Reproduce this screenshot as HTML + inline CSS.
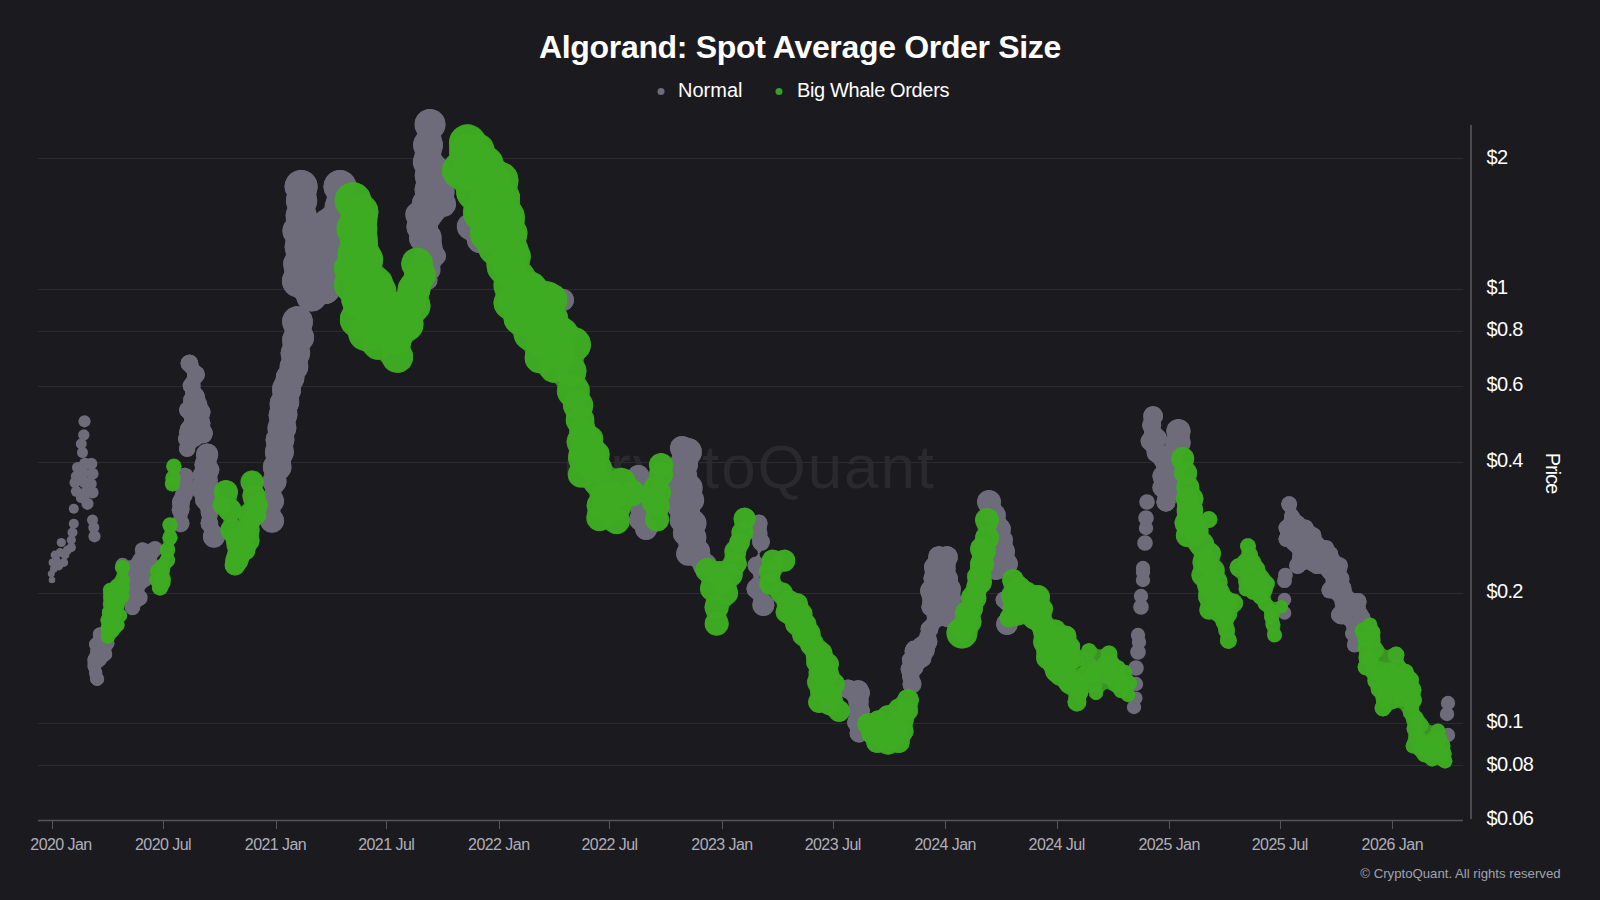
<!DOCTYPE html>
<html><head><meta charset="utf-8"><title>Algorand: Spot Average Order Size</title>
<style>
html,body{margin:0;padding:0;background:#1b1a1f;}
body{width:1600px;height:900px;overflow:hidden;position:relative;font-family:'Liberation Sans', Arial, sans-serif;}
svg{position:absolute;left:0;top:0;}
svg text{font-family:'Liberation Sans', Arial, sans-serif;}
</style></head><body>
<svg width="1600" height="900" viewBox="0 0 1600 900">
<rect width="1600" height="900" fill="#1b1a1f"/>
<text x="800" y="57.5" text-anchor="middle" font-size="32" font-weight="bold" fill="#ffffff" letter-spacing="-0.33">Algorand: Spot Average Order Size</text>
<circle cx="661" cy="91.6" r="3.5" fill="#6e6c7a"/>
<text x="678" y="97" font-size="20" fill="#ffffff">Normal</text>
<circle cx="779" cy="91.6" r="3.5" fill="#3b9f25"/>
<text x="797" y="97" font-size="20" fill="#ffffff" letter-spacing="-0.36">Big Whale Orders</text>
<text x="563.6" y="488" font-size="62" fill="#29292e" letter-spacing="1.9">CryptoQuant</text>
<line x1="38" y1="158.5" x2="1463" y2="158.5" stroke="#2b2b31" stroke-width="1"/>
<line x1="38" y1="289.5" x2="1463" y2="289.5" stroke="#2b2b31" stroke-width="1"/>
<line x1="38" y1="331.5" x2="1463" y2="331.5" stroke="#2b2b31" stroke-width="1"/>
<line x1="38" y1="386.5" x2="1463" y2="386.5" stroke="#2b2b31" stroke-width="1"/>
<line x1="38" y1="462.5" x2="1463" y2="462.5" stroke="#2b2b31" stroke-width="1"/>
<line x1="38" y1="593.5" x2="1463" y2="593.5" stroke="#2b2b31" stroke-width="1"/>
<line x1="38" y1="723.5" x2="1463" y2="723.5" stroke="#2b2b31" stroke-width="1"/>
<line x1="38" y1="765.5" x2="1463" y2="765.5" stroke="#2b2b31" stroke-width="1"/>
<g fill="#6e6c7a"><path d="M100,627.5 96.5,628.5 94,631.0 93,634.5 93.5,637.0 89.5,642.0 89,644.5 90.5,648.5 90.5,651.5 87.5,659.5 87.5,666.5 89,670.5 90.5,681.5 93.5,685.0 97,686.0 100.5,685.0 103.5,681.5 104,679.0 101.5,672.5 101,668.0 111.5,657.0 111.5,649.5 114,646.0 114.5,643.5 113,639.5 107,635.0 106,631.0 103.5,628.5Z"/><path d="M157.5,542.0 152.5,542.0 148,544.0 142.5,542.5 140,543.0 136.5,545.5 135,550.0 135.5,553.5 131,560.0 129,560.5 122.5,558.0 119,559.0 116,562.5 116,567.5 120.5,572.5 121.5,575.5 121.5,582.5 123.5,587.5 123,597.5 125,602.5 125.5,610.0 126.5,612.0 130,614.5 132.5,615.0 137,613.5 139.5,610.0 140,607.0 144.5,604.0 147,600.5 147,595.5 144.5,591.5 144.5,589.5 151.5,582.5 152,580.0 150.5,576.0 150.5,572.5 156,567.0 157.5,562.5 157,558.0 161,553.5 162.5,549.0 161,544.5Z"/><path d="M189.5,354.5 184,356.5 181.5,359.5 180.5,363.5 181.5,367.5 187,373.5 187,377.0 183,383.0 182.5,385.5 183.5,389.5 185,391.5 185,394.5 183.5,397.5 183,402.5 180.5,405.5 179,410.0 180.5,414.5 184,418.5 184,421.0 181,425.0 179,432.0 179.5,435.0 178,439.0 180,444.0 179,449.0 179.5,451.5 182.5,455.5 187,457.0 191.5,455.5 193.5,453.5 195,448.5 198,445.5 201.5,443.5 206,443.0 209,441.5 211,439.5 213,433.5 212.5,430.5 210,426.0 210.5,423.0 209,418.5 210.5,412.0 210,409.0 206.5,403.5 204,392.5 200.5,388.0 200.5,383.0 204,378.5 205,374.5 203,369.0 199,365.5 196.5,358.0 193.5,355.5Z"/><path d="M207,443.5 201.5,445.0 197,450.0 196,454.5 196.5,459.0 194.5,464.5 195,469.0 193,474.5 193.5,480.0 190.5,485.0 190,488.0 192,494.0 195,497.5 195.5,503.0 200.5,510.0 202,516.5 200.5,523.5 201.5,527.5 204,531.0 203,536.5 204,541.0 208.5,546.0 214,547.5 218.5,546.5 221.5,544.5 224,541.0 225,536.5 223.5,531.0 218.5,525.5 217,519.0 218.5,512.0 217.5,509.0 218.5,502.0 218,496.5 219.5,492.0 217.5,486.5 217.5,475.5 219.5,470.0 219,467.0 216.5,462.5 218,454.5 217.5,451.5 214.5,446.5 211.5,444.5Z"/><path d="M185,467.5 181,468.5 177,472.5 176,476.5 176.5,481.0 175,485.5 176,491.5 172,502.0 172.5,507.0 171.5,510.0 173.5,515.5 173.5,518.0 171.5,523.5 172,526.0 175,530.5 180.5,532.5 186,530.5 189,526.0 189.5,523.5 187.5,518.0 187.5,515.5 189.5,510.0 189.5,502.5 192,498.5 193,494.5 192,488.5 193,485.5 192.5,481.0 194,476.5 193.5,474.0 190.5,469.5Z"/><path d="M297.5,306.0 294,306.5 288.5,309.0 285,312.5 282.5,318.0 282,321.5 284.5,329.5 284.5,332.5 282.5,336.5 282.5,346.5 280.5,353.0 281.5,360.0 280,363.0 279.5,368.0 276.5,373.0 276,377.5 272.5,385.0 272.5,395.0 270.5,398.5 269.5,403.5 270,409.5 268.5,415.0 269.5,421.5 267.5,428.0 268,432.5 266.5,435.0 265.5,440.0 266.5,444.0 265,452.0 266,459.0 264,462.0 263,467.0 264.5,475.5 262.5,481.5 265,488.5 265,491.0 262,494.5 260,501.0 261,505.5 263.5,509.5 263.5,512.0 261,516.0 260,520.5 262,527.0 265.5,530.5 272,532.5 278.5,530.5 282,527.0 283.5,523.5 283.5,517.5 280.5,512.0 280.5,509.5 283,505.5 284,501.0 281.5,494.0 281.5,491.5 285.5,486.0 286.5,481.5 286,478.0 291,470.5 291,460.5 293,457.0 294,452.0 293,445.5 294.5,440.0 294,435.5 295.5,433.0 296.5,428.0 295.5,421.5 297.5,415.0 297,409.5 299,405.5 299,397.0 300.5,394.0 301,387.5 304,381.5 304.5,376.5 308,370.0 308,360.0 310,353.5 309.5,348.0 313,342.5 314,337.5 313.5,334.0 311.5,330.0 313,321.5 311,314.0 305,308.0Z"/><path d="M301,170.0 295.5,171.0 291,173.5 288,176.5 285,182.5 284.5,186.5 285,190.5 287,194.5 286,200.5 287.5,208.0 285.5,215.0 286,221.5 284,224.5 282.5,231.0 284,237.5 285.5,239.5 284.5,247.0 286,255.0 283.5,260.5 283,264.0 284.5,273.0 282.5,277.0 282,281.0 283,286.5 285.5,291.0 288.5,294.0 294,296.5 296.5,299.0 299,305.0 304,309.5 311.5,311.5 318,310.0 325,304.0 328.5,303.5 334,301.0 338.5,296.0 340.5,288.5 339,282.0 336.5,278.0 337,273.0 335.5,266.5 334,264.0 327.5,258.0 323.5,249.5 323.5,241.0 327,235.5 328,230.0 325.5,221.5 322.5,218.0 316.5,213.5 315,209.5 317,200.5 316,196.5 317.5,186.5 317,182.5 315,178.0 311,173.5 306.5,171.0Z"/><path d="M344,170.5 340,170.0 334.5,171.0 330,173.5 327,176.5 324.5,181.0 323.5,186.5 324.5,192.0 327,196.5 324.5,207.5 316.5,214.0 308.5,214.5 303.5,216.5 298.5,221.5 296.5,226.5 296,230.0 297,236.0 295.5,238.5 294,245.0 294.5,248.5 297,254.0 297,263.5 298.5,267.5 303,273.0 305,281.5 309.5,287.0 311.5,296.0 316,301.0 321.5,303.5 325,304.0 331.5,302.5 337.5,297.5 339,295.0 340.5,288.5 338,278.5 342,273.5 343,270.5 350.5,264.0 353,258.5 353,251.5 351.5,247.5 348.5,243.5 348.5,241.5 351.5,237.5 353,233.5 353,226.5 350.5,221.0 350.5,218.5 353.5,214.5 355.5,207.0 353,196.5 355.5,192.0 356.5,186.5 355.5,181.0 353,176.5 350,173.5Z"/><path d="M430,109.0 426.5,109.5 421,112.0 417.5,115.5 415,121.0 415,128.0 417,132.5 417,134.5 414.5,138.5 413,145.0 415,152.0 413,162.0 415.5,170.0 415,175.5 416,183.5 414.5,189.0 415,194.5 412.5,199.0 412,203.0 406.5,209.5 405.5,214.5 407.5,221.0 406.5,227.0 407.5,232.0 409.5,235.5 409.5,241.5 413.5,248.0 414.5,251.5 412.5,260.0 413,263.5 415,267.5 419,272.0 419,275.5 417.5,280.0 418,283.0 421.5,288.0 427.5,290.0 430.5,289.5 435.5,286.0 437,283.0 437,277.5 440,272.5 440,266.5 445.5,259.0 445.5,253.0 442,247.0 441,234.5 438,228.5 438,225.0 445,216.5 450.5,214.5 455,209.0 456,204.0 454,197.5 454,188.0 456,184.5 457,180.0 455,173.5 450.5,169.0 448.5,163.5 441,155.0 443,145.0 441,135.5 444,131.0 445.5,124.5 444,118.0 442.5,115.5 437.5,111.0Z"/><path d="M563,289.0 558.5,290.0 555.5,292.0 553,295.5 552,300.0 553,304.5 555,307.5 558.5,310.0 563,311.0 567.5,310.0 570.5,308.0 573,304.5 574,300.0 573,295.5 571,292.5 567.5,290.0ZM464,215.0 459.5,219.0 457.5,223.0 457,226.5 458.5,232.5 467,240.5 468.5,246.0 472.5,250.5 475,252.0 480,253.0 486,251.5 490.5,247.5 492.5,243.5 493,240.0 491.5,234.0 483,226.0 481.5,220.5 477.5,216.0 475,214.5 470,213.5Z"/><path d="M638.5,465.0 634,466.0 631,468.0 628,473.0 627.5,476.0 629,481.0 628,488.0 628.5,491.0 630.5,494.5 630,500.0 631.5,504.5 630.5,510.0 631,513.5 629,519.5 630.5,525.0 635,529.5 636,533.5 638,536.5 641.5,539.0 646,540.0 650.5,539.0 653.5,537.0 656,533.5 657,529.0 655.5,523.5 650.5,518.0 652.5,510.0 651.5,505.5 649.5,502.5 649.5,497.0 648,494.5 649,488.0 648,484.5 648,481.0 649.5,476.0 649,473.0 646,468.0 643,466.0Z"/><path d="M679,436.5 675.5,438.0 672,441.5 670,448.0 672,454.0 672,457.5 670,464.0 671.5,476.0 667.5,482.5 667,485.5 668.5,496.0 666,501.0 666,507.0 670.5,515.0 669.5,520.5 670.5,525.0 673.5,529.5 673,533.5 674,538.0 678.5,544.0 678.5,546.5 676,553.5 678,560.0 683.5,564.5 691,565.5 693.5,568.0 695,572.0 698.5,575.5 705,577.5 711.5,575.5 715,572.0 717,565.5 716,561.0 710.5,554.5 709,547.0 705.5,542.0 706,537.5 704.5,530.0 706,527.0 706,520.0 704,516.0 700,511.5 700,509.5 703,505.0 704,500.0 702,493.5 702,484.5 700.5,481.0 696.5,476.0 696,470.5 697.5,467.5 698,462.0 701.5,455.5 701.5,448.5 699.5,444.0 695.5,440.0 685,436.5Z"/><path d="M758.5,514.5 753,516.5 750.5,519.5 749.5,523.5 750.5,526.5 749.5,533.0 750.5,537.0 752,539.0 752.5,544.5 754,547.5 757.5,551.0 758,554.0 755.5,557.0 752.5,557.5 748.5,561.5 747.5,565.5 749.5,571.0 753,574.5 753.5,577.5 748.5,582.5 746.5,588.5 748.5,594.5 753.5,599.5 752.5,605.0 754,610.5 758,614.5 763.5,616.0 768,615.0 771,613.0 773.5,609.5 774.5,605.0 773,599.5 766,592.5 766.5,588.5 764.5,582.5 759.5,577.5 759.5,575.5 764.5,569.5 765.5,565.5 764.5,561.5 760,556.5 759.5,553.5 762,550.5 765,550.0 768,547.5 770,542.0 769,538.0 767.5,536.0 766.5,530.0 767.5,523.5 766.5,519.5 762.5,515.5Z"/><path d="M845,680.0 840,684.0 838.5,689.0 840,694.0 843,697.0 845.5,698.0 848.5,701.5 849,707.5 848,711.0 849,716.5 847,722.0 847.5,725.0 850,729.5 850,736.0 854,741.0 859,742.5 862,742.0 867,738.0 868.5,733.0 867,725.5 868,722.0 867.5,718.0 870,711.0 868.5,706.0 868.5,698.0 870,693.0 869.5,690.0 866,683.5 862.5,681.0 858,680.0 854.5,681.0 848,679.5Z"/><path d="M950,546.5 947,546.0 942.5,547.0 939,546.0 933.5,547.5 929.5,551.5 928,558.5 924.5,564.0 924,567.0 925,573.5 923.5,578.0 924,582.0 921,586.5 920,591.0 922.5,599.5 921.5,607.0 922,610.0 926.5,615.5 927,619.0 921.5,625.0 920.5,629.0 921,632.5 919.5,635.5 913,641.0 910,641.5 906.5,645.0 904.5,651.0 905,653.5 902.5,657.5 902.5,663.5 900.5,669.0 903,679.5 903,687.0 904,689.0 909,693.0 915,693.0 917,692.0 921,687.0 921,681.0 919,677.5 919,675.5 922,672.0 923.5,668.5 930,663.0 931,658.5 934,654.5 935,648.5 937.5,642.0 936,635.0 937.5,633.0 938.5,628.5 940.5,626.5 942.5,626.0 949,627.5 954,626.0 957,623.0 958.5,617.0 961.5,612.0 962,609.0 960.5,604.0 961,599.0 960,595.5 961,589.0 960,584.5 958,581.5 957.5,576.0 955.5,572.0 955.5,564.0 957.5,560.0 957.5,554.0 955,549.5Z"/><path d="M989,490.0 982.5,492.0 979,495.5 977,502.0 979,508.5 983.5,513.0 985,519.5 989.5,525.5 989.5,532.0 993,538.0 994,543.5 993.5,550.5 990,556.5 989.5,560.0 985.5,566.0 985.5,572.0 988.5,577.0 991.5,579.0 996,580.0 1001.5,578.5 1005.5,575.0 1012.5,573.5 1016.5,569.5 1018,564.0 1017,559.5 1014.5,556.0 1015,551.0 1012.5,544.0 1012.5,537.0 1010.5,533.5 1010.5,526.0 1005.5,518.5 1005.5,512.0 1000.5,504.5 1001,502.0 1000,497.5 995.5,492.0Z"/><path d="M1004,591.5 1000,592.5 998,594.0 996,597.5 995.5,600.0 996.5,604.0 1003,610.5 1002.5,613.5 997.5,618.5 996,624.0 997,628.5 999,631.5 1002.5,634.0 1007,635.0 1011.5,634.0 1014.5,632.0 1017,628.5 1018,624.0 1017,619.5 1015,616.5 1010.5,614.0 1008,611.0 1008,608.5 1012,602.5 1012.5,600.0 1011.5,596.0 1008,592.5Z"/><path d="M1153,406.0 1147,408.0 1143.5,413.0 1143.5,421.0 1142,425.5 1144,431.0 1144,433.5 1141,438.0 1140.5,441.0 1142,446.0 1146.5,451.0 1148,458.0 1154.5,463.5 1156,466.5 1156,468.5 1153,473.0 1152.5,476.0 1154,483.0 1152.5,487.5 1154,492.5 1157.5,496.5 1156.5,502.0 1157,505.0 1161,510.0 1166,511.5 1171,510.0 1174,507.0 1175.5,502.0 1174,497.0 1170.5,493.0 1171.5,487.5 1170,480.5 1171.5,476.0 1169,467.5 1172,463.0 1172.5,460.0 1171,455.0 1164,448.5 1164,445.5 1166.5,441.5 1167,438.5 1165.5,433.5 1160.5,428.0 1160.5,422.5 1162.5,419.0 1163,416.0 1162.5,413.0 1159,408.0Z"/><path d="M1178.5,419.0 1172,421.0 1168.5,424.5 1166.5,431.0 1167.5,436.5 1166,439.0 1165.5,444.5 1162,450.0 1161.5,453.0 1163,457.5 1162,463.5 1164,469.0 1163,474.5 1164.5,481.5 1162,486.0 1162,492.5 1158,497.0 1156.5,502.0 1158,507.0 1161,510.0 1166,511.5 1171,510.0 1174,507.0 1176,499.5 1180.5,495.0 1182,492.0 1182.5,489.0 1181,482.0 1183.5,477.5 1184,474.5 1183.5,471.5 1181.5,468.0 1182,463.5 1181,457.5 1182.5,454.5 1189,448.0 1190.5,442.5 1189.5,439.0 1190.5,431.0 1188.5,424.5 1185,421.0Z"/><path d="M1286.5,496.5 1282.5,499.5 1281,504.0 1282.5,508.5 1285,511.5 1284,519.0 1279,525.5 1278.5,528.0 1280,532.0 1280,535.0 1278.5,539.0 1280,543.5 1282,545.5 1286.5,547.0 1292.5,553.0 1292,559.0 1290,561.5 1289,565.5 1290,569.5 1293.5,573.0 1297.5,574.0 1301.5,573.0 1305,570.0 1307,569.5 1314,573.5 1321,574.0 1325.5,579.5 1325.5,582.0 1322,587.5 1321.5,590.0 1322.5,594.0 1326,597.5 1331.5,598.5 1334,601.0 1335,604.0 1335,607.0 1331.5,612.5 1331,615.0 1332,619.0 1337,623.5 1344,624.5 1346,626.5 1346.5,629.5 1345,633.5 1348,640.0 1347,645.0 1348.5,649.5 1352,652.0 1357,652.0 1360.5,649.5 1362,645.0 1359,638.5 1360,633.5 1359.5,629.5 1362,626.5 1366,625.5 1369.5,622.0 1370.5,618.0 1369.5,614.0 1366.5,610.0 1365.5,607.0 1366.5,601.5 1365.5,597.5 1362,594.0 1354,593.0 1352,591.0 1350.5,584.5 1349,582.5 1349,576.5 1346.5,572.5 1348,565.5 1347,561.5 1345.5,559.5 1341,557.5 1338.5,555.0 1337.5,550.5 1334,546.5 1332,542.5 1330,541.0 1324.5,540.0 1322,537.5 1320.5,531.5 1319,529.5 1315,527.5 1311,522.0 1309,520.5 1305,519.5 1299.5,514.5 1296,509.0 1297,504.0 1295.5,499.5 1291.5,496.5Z"/></g>
<g fill="#6e6c7a">
<circle cx="52" cy="580" r="3.3"/><circle cx="51.3" cy="573.8" r="3.5"/><circle cx="53.8" cy="568.8" r="3.9"/><circle cx="52.5" cy="562.5" r="3.9"/><circle cx="56.3" cy="560" r="4.2"/><circle cx="55" cy="555" r="4.4"/><circle cx="60" cy="552.5" r="4.4"/><circle cx="65" cy="555" r="4.4"/><circle cx="63.8" cy="562.5" r="4.4"/><circle cx="58.8" cy="566" r="4.4"/><circle cx="61.3" cy="542.5" r="4.6"/><circle cx="67.5" cy="550" r="4.6"/><circle cx="71.3" cy="547.5" r="4.6"/><circle cx="71.3" cy="540" r="4.6"/><circle cx="72.5" cy="532.5" r="5"/><circle cx="73.8" cy="523.8" r="5"/><circle cx="73.8" cy="508.8" r="5"/><circle cx="77.5" cy="467.5" r="5.5"/><circle cx="85" cy="463.8" r="6.1"/><circle cx="91.3" cy="463.8" r="6.1"/><circle cx="92.5" cy="473.8" r="6.1"/><circle cx="76.3" cy="476.3" r="5.5"/><circle cx="82.5" cy="472.5" r="6.1"/><circle cx="75" cy="482.5" r="5.5"/><circle cx="85" cy="482.5" r="6.1"/><circle cx="91.3" cy="483.8" r="5.5"/><circle cx="76.3" cy="491.3" r="5.5"/><circle cx="86.3" cy="492.5" r="6.1"/><circle cx="92.5" cy="492.5" r="6.1"/><circle cx="81.3" cy="497.5" r="5.5"/><circle cx="87.5" cy="503.8" r="6.1"/><circle cx="84.5" cy="421.3" r="6.1"/><circle cx="83.8" cy="435" r="5.7"/><circle cx="81.3" cy="443.8" r="5.5"/><circle cx="82.5" cy="452.5" r="5.5"/><circle cx="92.5" cy="520" r="5.5"/><circle cx="93.8" cy="527.5" r="5.5"/><circle cx="94.5" cy="536.3" r="6.1"/><circle cx="97.2" cy="678.9" r="7"/><circle cx="94.4" cy="666.7" r="6.8"/><circle cx="100" cy="660" r="6.6"/><circle cx="105.6" cy="654.4" r="6.6"/><circle cx="96.7" cy="652.2" r="6.6"/><circle cx="95.6" cy="644.4" r="6.6"/><circle cx="100" cy="634.4" r="7.2"/><circle cx="107.8" cy="643.3" r="6.6"/><circle cx="95.7" cy="672.8" r="6.7"/><circle cx="94.4" cy="659.3" r="6.9"/><circle cx="99.4" cy="650.6" r="6.5"/><circle cx="103.1" cy="648.8" r="6.1"/><circle cx="101.7" cy="644" r="6.6"/><circle cx="122.5" cy="565" r="7.2"/><circle cx="142.5" cy="550" r="7.7"/><circle cx="155" cy="548.8" r="7.7"/><circle cx="140" cy="560" r="7.7"/><circle cx="137.5" cy="572.5" r="7.7"/><circle cx="135" cy="585" r="7.7"/><circle cx="137.5" cy="597.5" r="7.7"/><circle cx="132.5" cy="607.5" r="7.7"/><circle cx="150" cy="562.5" r="7.7"/><circle cx="145" cy="580" r="7.2"/><circle cx="132.2" cy="604.4" r="7.2"/><circle cx="140" cy="597.8" r="7.7"/><circle cx="128" cy="575" r="7.2"/><circle cx="130" cy="590" r="7.2"/><circle cx="129.2" cy="570.3" r="6.9"/><circle cx="145.5" cy="556.7" r="7.2"/><circle cx="150.7" cy="555" r="7.1"/><circle cx="144.7" cy="568.6" r="7.7"/><circle cx="132.6" cy="598.6" r="7.7"/><circle cx="130.2" cy="597.3" r="6.9"/><circle cx="128.3" cy="582.6" r="6.9"/><circle cx="189.4" cy="363.3" r="8.8"/><circle cx="196.1" cy="374.4" r="8.8"/><circle cx="191.7" cy="385.6" r="8.8"/><circle cx="196.1" cy="396.7" r="8.8"/><circle cx="187.2" cy="410" r="8.2"/><circle cx="200.6" cy="412.2" r="9.9"/><circle cx="200.6" cy="421" r="8.8"/><circle cx="187.2" cy="432.2" r="8.2"/><circle cx="186.1" cy="438.9" r="8.2"/><circle cx="187.2" cy="448.9" r="8.2"/><circle cx="202.8" cy="433.3" r="9.9"/><circle cx="193" cy="420" r="8.8"/><circle cx="192" cy="400" r="8.8"/><circle cx="193" cy="404.3" r="8.5"/><circle cx="197.7" cy="404.6" r="9.7"/><circle cx="194.5" cy="414.7" r="8.1"/><circle cx="200.5" cy="422.9" r="9.9"/><circle cx="194.4" cy="427.2" r="8.5"/><circle cx="187.6" cy="440.5" r="8.3"/><circle cx="195.1" cy="431" r="8.6"/><circle cx="195" cy="437.8" r="8.7"/><circle cx="188.6" cy="429.1" r="8.6"/><circle cx="198.4" cy="426.3" r="8.8"/><circle cx="192.7" cy="410" r="8.8"/><circle cx="207.2" cy="454.4" r="11"/><circle cx="209.4" cy="470" r="9.9"/><circle cx="202.8" cy="474.4" r="9.9"/><circle cx="200.6" cy="487.8" r="10.5"/><circle cx="209.4" cy="492.2" r="9.9"/><circle cx="209.4" cy="512.2" r="8.8"/><circle cx="209.4" cy="523.3" r="8.8"/><circle cx="213.9" cy="536.7" r="11"/><circle cx="205" cy="500" r="9.9"/><circle cx="204.6" cy="464.3" r="10.2"/><circle cx="204.6" cy="478.7" r="9.6"/><circle cx="207.8" cy="481.1" r="10.1"/><circle cx="205.4" cy="483.6" r="9.3"/><circle cx="209.3" cy="502.2" r="9"/><circle cx="185" cy="476.7" r="8.8"/><circle cx="183.9" cy="494.4" r="8.8"/><circle cx="180.6" cy="510" r="8.8"/><circle cx="180.6" cy="523.3" r="8.8"/><circle cx="183.9" cy="485.5" r="8.9"/><circle cx="181" cy="501.9" r="9.1"/><circle cx="296.5" cy="339.8" r="14.3"/><circle cx="294" cy="366.7" r="14.3"/><circle cx="286.7" cy="388.7" r="14.3"/><circle cx="284.2" cy="403.3" r="14.3"/><circle cx="281.8" cy="427.8" r="14.3"/><circle cx="279.3" cy="452.2" r="14.3"/><circle cx="274.4" cy="481.6" r="12.1"/><circle cx="272" cy="501" r="12.1"/><circle cx="272" cy="520.7" r="12.1"/><circle cx="297.5" cy="321.7" r="15.4"/><circle cx="295" cy="353" r="14.3"/><circle cx="290" cy="378" r="14.3"/><circle cx="283" cy="415" r="14.3"/><circle cx="280" cy="440" r="14.3"/><circle cx="276" cy="467" r="13.2"/><circle cx="296.2" cy="353.3" r="14"/><circle cx="285.4" cy="401.9" r="13.9"/><circle cx="286.5" cy="390.5" r="14.3"/><circle cx="278.4" cy="467.2" r="13.1"/><circle cx="299.9" cy="337.6" r="14.2"/><circle cx="279.1" cy="453.7" r="12.9"/><circle cx="301.2" cy="186.5" r="16.5"/><circle cx="301.2" cy="214.8" r="15.4"/><circle cx="300.2" cy="247" r="15.4"/><circle cx="298.4" cy="281" r="16.5"/><circle cx="311.6" cy="296" r="15.4"/><circle cx="301" cy="230" r="15.4"/><circle cx="312" cy="260" r="15.4"/><circle cx="312" cy="230" r="16"/><circle cx="324.8" cy="288.5" r="15.4"/><circle cx="312" cy="278" r="15.4"/><circle cx="301.6" cy="200.7" r="15.7"/><circle cx="297.4" cy="230.8" r="15"/><circle cx="299.2" cy="264" r="15.8"/><circle cx="308.4" cy="261.6" r="15.1"/><circle cx="305.6" cy="245.3" r="15.6"/><circle cx="308.8" cy="245" r="15"/><circle cx="321.3" cy="273" r="15.7"/><circle cx="340" cy="186.5" r="16.5"/><circle cx="328" cy="224" r="15.4"/><circle cx="326.7" cy="245" r="15.4"/><circle cx="328.6" cy="266" r="15.4"/><circle cx="340" cy="207" r="15.4"/><circle cx="338" cy="230" r="15.4"/><circle cx="338" cy="255" r="15.4"/><circle cx="324.8" cy="288.5" r="15.4"/><circle cx="312" cy="260" r="15.4"/><circle cx="312" cy="230" r="16"/><circle cx="333.3" cy="239.4" r="15.2"/><circle cx="327.3" cy="240.1" r="15.3"/><circle cx="318.5" cy="274.2" r="15.3"/><circle cx="309.5" cy="245" r="15.4"/><circle cx="430" cy="124.4" r="15.5"/><circle cx="428" cy="145" r="15"/><circle cx="427.8" cy="162" r="15"/><circle cx="431" cy="193" r="15"/><circle cx="443" cy="204" r="13"/><circle cx="426.7" cy="215.6" r="15"/><circle cx="426.7" cy="237.8" r="15"/><circle cx="425.6" cy="260" r="13"/><circle cx="436" cy="256" r="10"/><circle cx="427.7" cy="189" r="13"/><circle cx="418.3" cy="214.7" r="13"/><circle cx="423" cy="238" r="14"/><circle cx="430" cy="263.7" r="10"/><circle cx="427.7" cy="280" r="10"/><circle cx="445" cy="180" r="12"/><circle cx="430.4" cy="177.4" r="14.7"/><circle cx="428.3" cy="175.5" r="13.6"/><circle cx="436.8" cy="170.6" r="13.5"/><circle cx="426.1" cy="204.7" r="13.9"/><circle cx="431.9" cy="212.3" r="12.4"/><circle cx="443" cy="191.9" r="11.7"/><circle cx="428.9" cy="202.4" r="13.4"/><circle cx="429.7" cy="247.7" r="12.9"/><circle cx="420.9" cy="226.8" r="14.4"/><circle cx="426.4" cy="251" r="12.5"/><circle cx="429.4" cy="269.7" r="11.2"/><circle cx="430.1" cy="246.6" r="11.5"/><circle cx="424.7" cy="202.5" r="12.4"/><circle cx="422.2" cy="226" r="13.7"/><circle cx="427.4" cy="250.6" r="11.6"/><circle cx="470" cy="226.7" r="13.2"/><circle cx="480" cy="240" r="13.2"/><circle cx="563" cy="300" r="11"/><circle cx="638.4" cy="476" r="11"/><circle cx="640" cy="519.5" r="11"/><circle cx="646.2" cy="528.9" r="11"/><circle cx="640" cy="500" r="9.9"/><circle cx="638.6" cy="488" r="10.5"/><circle cx="641.5" cy="509.8" r="10.8"/><circle cx="682" cy="448" r="12.1"/><circle cx="682" cy="466.7" r="12.1"/><circle cx="678.9" cy="485.3" r="12.1"/><circle cx="677.3" cy="504" r="12.1"/><circle cx="685" cy="513.3" r="12.1"/><circle cx="685" cy="533.5" r="12.1"/><circle cx="688.2" cy="553.7" r="12.1"/><circle cx="687.5" cy="452.2" r="14.3"/><circle cx="684" cy="476.7" r="13.2"/><circle cx="679.3" cy="507" r="12.1"/><circle cx="691" cy="500" r="13.2"/><circle cx="693.3" cy="523.3" r="13.2"/><circle cx="688.7" cy="537.3" r="12.1"/><circle cx="698" cy="551.3" r="12.1"/><circle cx="705" cy="565.3" r="12.1"/><circle cx="683.9" cy="462.3" r="12.4"/><circle cx="682.4" cy="499.2" r="11.8"/><circle cx="680.1" cy="490.2" r="12.6"/><circle cx="686.5" cy="512.7" r="12.6"/><circle cx="689.8" cy="524.8" r="11.6"/><circle cx="681.2" cy="520.5" r="11.3"/><circle cx="690.3" cy="543.3" r="11.6"/><circle cx="683.8" cy="464.2" r="14.2"/><circle cx="689.1" cy="487.9" r="13.6"/><circle cx="693.7" cy="537.6" r="12.7"/><circle cx="758.7" cy="523.3" r="8.8"/><circle cx="761" cy="542" r="8.8"/><circle cx="756.3" cy="565.3" r="8.8"/><circle cx="756.3" cy="588.7" r="9.9"/><circle cx="763.3" cy="605" r="11"/><circle cx="758.6" cy="532.8" r="9"/><circle cx="848" cy="689" r="9.6"/><circle cx="859" cy="693" r="10.8"/><circle cx="859" cy="711" r="10.8"/><circle cx="859" cy="733" r="9.6"/><circle cx="858" cy="691" r="10.8"/><circle cx="857.5" cy="722" r="10.4"/><circle cx="858.4" cy="701" r="10.3"/><circle cx="912" cy="684" r="9.6"/><circle cx="914" cy="667" r="9.6"/><circle cx="914" cy="649" r="8.4"/><circle cx="928" cy="644" r="8.4"/><circle cx="930" cy="629" r="8.4"/><circle cx="930" cy="607" r="8.4"/><circle cx="934" cy="593" r="9.6"/><circle cx="939" cy="571" r="9.6"/><circle cx="946" cy="564" r="9.6"/><circle cx="950" cy="589" r="10.8"/><circle cx="950" cy="611" r="9.6"/><circle cx="920" cy="655" r="8.4"/><circle cx="943" cy="580" r="9.6"/><circle cx="939" cy="557" r="10.8"/><circle cx="947" cy="557" r="10.8"/><circle cx="943" cy="569" r="10.8"/><circle cx="933" cy="578" r="9.6"/><circle cx="931" cy="591" r="10.8"/><circle cx="931" cy="607" r="9.6"/><circle cx="947" cy="596" r="10.8"/><circle cx="951" cy="609" r="10.8"/><circle cx="949" cy="618" r="9.6"/><circle cx="929" cy="629" r="8.4"/><circle cx="929" cy="642" r="8.4"/><circle cx="913" cy="651" r="8.4"/><circle cx="922" cy="658" r="9.6"/><circle cx="909" cy="669" r="8.4"/><circle cx="940" cy="585" r="10.8"/><circle cx="910.7" cy="676.5" r="8.7"/><circle cx="915.6" cy="658" r="8.6"/><circle cx="913.5" cy="659" r="8.7"/><circle cx="921.3" cy="645.2" r="8.7"/><circle cx="927.4" cy="636.3" r="8.2"/><circle cx="921" cy="648.5" r="8.1"/><circle cx="922.9" cy="650.1" r="8.6"/><circle cx="939.9" cy="609.5" r="8.7"/><circle cx="931.6" cy="599.1" r="9.3"/><circle cx="937.6" cy="600.2" r="9.3"/><circle cx="940.5" cy="607.6" r="9.7"/><circle cx="936.8" cy="582.1" r="9.1"/><circle cx="941.9" cy="601.6" r="9.7"/><circle cx="944.4" cy="580" r="9.7"/><circle cx="935.4" cy="581.2" r="10.3"/><circle cx="939.4" cy="570.9" r="9.7"/><circle cx="941.7" cy="574.1" r="10.1"/><circle cx="949.3" cy="600" r="9.9"/><circle cx="947.1" cy="578.8" r="10.9"/><circle cx="940.4" cy="585.2" r="10.5"/><circle cx="951.2" cy="599" r="10.1"/><circle cx="940.2" cy="610.6" r="9.2"/><circle cx="923" cy="647.5" r="8.1"/><circle cx="914.8" cy="662.2" r="8.4"/><circle cx="940.8" cy="568.5" r="10.5"/><circle cx="945.8" cy="568.6" r="9.8"/><circle cx="934.2" cy="567" r="10.2"/><circle cx="934.8" cy="578.8" r="10.9"/><circle cx="938.1" cy="588.5" r="9.6"/><circle cx="938.4" cy="600.6" r="10.6"/><circle cx="941.2" cy="605.6" r="10.5"/><circle cx="939" cy="614.2" r="9"/><circle cx="933.9" cy="595.3" r="10.5"/><circle cx="945.7" cy="607.2" r="10.4"/><circle cx="920.5" cy="645.7" r="8.5"/><circle cx="926.3" cy="650.3" r="8.3"/><circle cx="910.5" cy="659.9" r="8.6"/><circle cx="914.2" cy="662" r="8.8"/><circle cx="989" cy="502" r="12"/><circle cx="1000" cy="529" r="10.8"/><circle cx="1004" cy="551" r="10.8"/><circle cx="1007" cy="564" r="10.8"/><circle cx="996" cy="569" r="10.8"/><circle cx="995" cy="515" r="10.8"/><circle cx="1002.9" cy="539.8" r="10.1"/><circle cx="999.3" cy="559.7" r="10"/><circle cx="1004" cy="600" r="8.4"/><circle cx="1007" cy="624" r="10.8"/><circle cx="1143" cy="572" r="7.2"/><circle cx="1143" cy="580" r="7.2"/><circle cx="1141" cy="596" r="7.2"/><circle cx="1141" cy="607" r="7.8"/><circle cx="1138" cy="635" r="7.2"/><circle cx="1139" cy="642" r="7.2"/><circle cx="1138" cy="652" r="7.8"/><circle cx="1136" cy="668" r="7.8"/><circle cx="1136" cy="684" r="7.2"/><circle cx="1136" cy="698" r="6.6"/><circle cx="1134" cy="707" r="7.2"/><circle cx="1147" cy="502" r="7.8"/><circle cx="1146" cy="518" r="7.8"/><circle cx="1146" cy="528" r="7.2"/><circle cx="1145" cy="543" r="7.8"/><circle cx="1143" cy="568" r="7.2"/><circle cx="1153.1" cy="416" r="9.9"/><circle cx="1151.7" cy="425.3" r="9.5"/><circle cx="1150.2" cy="441.2" r="9.5"/><circle cx="1157.5" cy="438.4" r="9.5"/><circle cx="1156" cy="452.8" r="9.5"/><circle cx="1163.2" cy="460" r="9.5"/><circle cx="1161.8" cy="476" r="9.5"/><circle cx="1161.8" cy="487.5" r="9.5"/><circle cx="1166" cy="502" r="9.5"/><circle cx="1178.4" cy="431.1" r="12.1"/><circle cx="1179.1" cy="442.7" r="11.6"/><circle cx="1171.9" cy="452.8" r="10.5"/><circle cx="1173.4" cy="474.5" r="10.5"/><circle cx="1171.9" cy="489" r="10.5"/><circle cx="1166" cy="502" r="9.5"/><circle cx="1176.1" cy="442.2" r="10.6"/><circle cx="1171.9" cy="463.7" r="9.8"/><circle cx="1285.4" cy="575.1" r="7.4"/><circle cx="1284.5" cy="580.7" r="7.4"/><circle cx="1284.5" cy="599.6" r="6.8"/><circle cx="1284.5" cy="612.9" r="6.8"/><circle cx="1289.2" cy="504.2" r="7.9"/><circle cx="1292" cy="516.5" r="7.9"/><circle cx="1286.3" cy="527.8" r="7.9"/><circle cx="1286.3" cy="539.1" r="7.9"/><circle cx="1305.2" cy="527.8" r="8.4"/><circle cx="1312.8" cy="535.4" r="8.4"/><circle cx="1299.6" cy="548.6" r="8.4"/><circle cx="1297.7" cy="565.6" r="8.4"/><circle cx="1312.8" cy="550.5" r="8.4"/><circle cx="1316.6" cy="565.6" r="8.4"/><circle cx="1326" cy="548.6" r="8.4"/><circle cx="1329.8" cy="554.3" r="8.4"/><circle cx="1339.3" cy="565.6" r="8.4"/><circle cx="1329.8" cy="571.3" r="8.4"/><circle cx="1341.2" cy="578.8" r="8.4"/><circle cx="1343.1" cy="588.3" r="8.4"/><circle cx="1329.8" cy="590.2" r="8.4"/><circle cx="1358.2" cy="601.5" r="8.4"/><circle cx="1343.1" cy="603.4" r="8.4"/><circle cx="1339.3" cy="614.8" r="8.4"/><circle cx="1360.1" cy="614.8" r="8.4"/><circle cx="1352.5" cy="633.7" r="7.4"/><circle cx="1354.4" cy="645" r="7.4"/><circle cx="1362" cy="618" r="8.4"/><circle cx="1341" cy="616" r="8.4"/><circle cx="1297.9" cy="522.9" r="7.7"/><circle cx="1293.6" cy="542.9" r="8.1"/><circle cx="1300.5" cy="557.3" r="8.5"/><circle cx="1313.6" cy="558.3" r="7.8"/><circle cx="1321.1" cy="553.2" r="8.2"/><circle cx="1323.6" cy="560.4" r="8.7"/><circle cx="1327.8" cy="562.8" r="8.1"/><circle cx="1334.5" cy="583.5" r="8.5"/><circle cx="1350.4" cy="600.5" r="7.8"/><circle cx="1358.3" cy="610.2" r="8"/><circle cx="1448" cy="703" r="7.2"/><circle cx="1447" cy="714" r="7.2"/><circle cx="1448" cy="735" r="7.2"/>
</g>
<g fill="rgb(62,172,34)" fill-opacity="0.85"><path d="M122.5,560.0 118,561.5 115.5,565.0 115,567.5 117,572.5 116,577.0 109,583.5 106.5,584.0 104,586.5 103,590.0 103.5,607.5 102,610.0 102,616.0 100.5,620.0 101.5,623.0 100.5,628.5 101.5,631.5 101,636.5 102,640.0 104.5,642.5 108,643.5 111.5,642.5 123.5,628.5 124.5,625.0 124,621.5 126,619.0 127,615.5 126.5,613.0 124,609.5 125,603.5 128,600.0 129,596.5 128.5,592.5 130,588.5 129,583.0 130,580.0 128,575.0 128,572.5 130,567.5 128.5,563.0 127,561.5Z"/><path d="M170,517.5 165.5,519.0 163,522.5 162.5,525.0 164.5,530.0 164.5,532.5 162.5,537.5 163.5,543.0 161.5,545.5 160,550.0 161.5,556.0 156.5,562.5 151,567.5 150,571.0 150.5,575.5 149,579.5 152,586.0 152.5,590.0 155.5,594.0 160,595.5 164.5,594.0 166.5,592.0 170,585.0 170.5,579.0 169,573.0 170,568.5 173.5,564.5 175,560.0 173.5,556.0 175,550.0 174,544.5 176,542.0 177.5,537.5 175.5,532.5 175.5,530.0 177.5,525.0 176,520.5 174.5,519.0Z"/><path d="M173,470.5 170.5,471.0 167,473.5 165.5,478.0 166,481.0 165,484.0 166.5,488.5 168,490.0 172.5,491.5 175,491.0 178.5,488.5 180,484.0 179.5,481.0 180.5,478.0 179,473.5 177.5,472.0Z"/><path d="M174,459.0 169.5,460.5 168,462.0 166.5,466.5 168,471.0 169.5,472.5 174,474.0 178.5,472.5 180,471.0 181.5,466.5 180,462.0 178.5,460.5Z"/><path d="M226,480.0 219.5,482.0 216,485.5 214,492.0 215,498.5 213,502.0 212.5,505.0 214,510.0 223.5,520.0 223.5,522.5 221.5,525.5 220.5,530.0 222,535.5 226,540.5 228,550.0 225,562.0 225,568.0 229,573.5 235,575.5 241,573.5 247,565.5 249.5,558.5 249.5,551.5 250.5,548.0 248.5,540.5 243.5,531.5 242.5,525.5 238.5,520.0 238.5,517.5 240.5,514.5 241.5,510.0 240.5,505.5 236.5,500.0 238,492.0 237,487.5 232.5,482.0Z"/><path d="M252,470.5 245,473.0 241,479.0 241,485.0 243.5,489.5 242.5,496.0 244,504.0 240,508.5 238,515.0 239.5,522.5 236.5,528.5 233,532.0 231.5,535.0 231.5,542.5 229.5,548.0 231.5,554.0 234,556.5 245,560.5 251,558.5 253.5,556.0 255,553.0 255,550.5 258.5,545.0 259.5,540.5 258.5,537.0 259.5,530.0 259,526.0 266,518.0 266,511.5 268,505.5 265.5,498.5 265,493.0 262.5,488.5 263.5,482.0 262.5,477.5 259,473.0Z"/><path d="M347,183.0 341,186.5 337.5,190.5 335.5,194.5 334.5,200.5 335.5,206.5 340.5,214.5 340.5,217.0 337.5,222.5 336.5,228.5 337.5,234.5 340,239.0 340,244.5 338,250.0 338,258.5 335,263.5 334,268.5 336,275.0 334,284.5 334.5,288.5 336.5,293.5 341.5,299.5 341.5,302.5 343,306.0 343,309.0 340,315.5 340,323.5 343,330.0 348.5,335.5 351,342.5 355.5,347.5 362.5,350.5 370.5,358.0 374.5,359.5 380,360.0 383,363.0 385.5,367.5 389,370.5 397.5,373.0 403,372.0 409.5,367.5 413,360.5 413,353.5 410.5,348.0 412,338.5 411.5,334.5 410,331.5 410,328.0 415,320.5 416,315.0 415,309.5 410.5,303.0 405.5,300.0 402.5,299.5 399.5,296.5 396,291.0 396,287.5 390.5,274.5 382,266.0 383,259.5 382.5,255.5 377.5,244.5 377,220.5 378.5,212.0 377.5,206.0 375.5,202.0 371,197.0 368.5,190.5 363,185.0 357,182.5 353,182.0Z"/><path d="M422.5,248.5 417,247.5 411.5,248.5 406.5,251.5 403.5,255.0 401,263.5 402,269.0 404,272.5 404,275.0 398.5,284.0 397.5,290.5 393,300.0 388,304.5 385,309.5 384,315.0 385.5,323.5 381,329.0 379,333.0 378,338.5 378.5,342.5 382.5,350.0 387,353.5 391,355.0 399,355.0 403,353.5 407.5,350.0 410,346.5 411.5,342.0 418,337.0 421.5,332.5 423,328.5 423,320.5 428.5,313.5 430,309.5 430.5,305.5 428.5,296.5 430,293.5 430.5,287.5 435,280.5 436,275.0 435,269.5 433,266.0 432,258.0 430.5,255.0 427.5,251.5Z"/><path d="M461.5,125.5 455.5,129.0 452,133.0 450,137.0 449,143.0 449.5,155.0 445,160.5 443,164.5 442,170.5 442.5,174.5 446.5,182.5 450.5,186.0 453,187.0 456,190.5 457,197.5 459,201.5 463.5,207.0 463,212.5 464,218.5 466,222.5 470.5,228.0 470,233.5 471,239.5 473,243.5 478,249.0 480.5,256.5 486,262.5 487.5,272.0 489.5,276.0 494,281.5 494,289.0 495.5,292.5 495.5,296.0 494,299.0 493.5,303.0 494.5,308.5 497,313.0 503.5,319.0 504.5,324.0 507,328.5 513.5,334.5 515,340.5 517,344.0 525,351.0 525,361.5 527.5,367.0 532.5,371.5 539.5,373.5 545,380.0 550.5,382.5 555,383.0 557.5,386.0 557.5,395.0 559.5,399.5 563,404.0 563.5,408.5 566,413.5 566,423.5 569.5,430.0 569.5,433.0 568,435.5 566.5,442.0 569,450.0 568,458.0 570,464.5 570,468.0 568,474.5 568.5,478.0 570.5,482.0 573.5,485.0 577.5,487.0 584,487.5 589.5,494.5 589.5,497.0 587.5,500.5 586.5,505.5 587.5,509.5 586.5,518.0 588,524.0 592,528.5 596,530.5 599.5,531.0 605.5,529.5 613,533.5 616.5,534.0 621.5,533.0 624,531.5 628.5,526.0 629.5,521.0 628.5,514.5 631,508.0 633,506.0 639.5,503.5 643.5,499.0 645,493.0 644.5,489.5 642.5,485.5 635.5,479.0 633.5,474.0 629.5,470.0 621.5,467.5 616,468.5 614,468.0 612,466.0 609,459.5 609.5,454.0 608.5,449.0 602.5,441.5 603,439.0 601.5,433.0 594.5,425.5 594,416.5 592,412.5 593,405.0 592.5,401.5 589.5,395.5 589.5,387.0 585,379.0 586.5,371.0 586,367.5 583.5,362.0 584,358.5 588.5,353.5 590.5,348.5 591,344.5 589.5,337.5 584,330.5 578,328.0 574.5,323.5 568,318.0 567,313.0 565,310.0 565,308.0 567,304.0 567,296.0 564,290.0 561,287.0 554.5,283.0 546,281.0 541,275.5 535.5,272.5 529.5,264.5 531,256.5 530.5,252.5 526,242.0 527.5,233.0 527,229.0 524.5,223.5 525,217.5 524,211.5 520,204.0 520,194.5 517.5,188.5 518.5,180.0 516,171.0 511,165.5 505.5,163.0 503,160.5 501,155.0 494.5,148.0 491,140.0 485,135.5 479.5,129.0 471.5,125.0 467.5,124.5Z"/><path d="M661,453.0 654.5,455.0 650,460.5 649,465.0 650,468.5 649,477.0 644,484.5 643.5,488.0 644.5,495.5 642,502.5 643,507.0 646.5,512.0 645,519.5 647,526.0 650.5,529.5 657,531.5 663.5,529.5 667,526.0 669,519.5 667.5,514.5 669.5,506.5 668.5,500.0 671,493.0 668.5,484.0 672,479.0 673,474.5 672,471.0 673,465.0 671,458.5 667.5,455.0Z"/><path d="M747.5,508.0 744.5,507.5 740,508.5 737,510.5 734.5,514.0 733.5,518.5 734.5,525.0 732,529.5 732,535.0 729.5,539.5 729.5,541.5 725,548.5 724.5,558.5 722,561.0 720,561.5 715,561.0 710.5,558.5 704.5,558.5 701,560.0 697.5,563.5 695.5,570.0 696.5,574.5 701.5,581.0 700,588.5 702,595.0 706,599.5 704.5,607.5 707,616.5 705,620.5 705,626.5 706.5,630.0 710,633.5 716.5,635.5 723,633.5 727.5,628.0 728.5,623.5 726,614.5 728,610.5 728,608.0 737,598.0 738,593.5 736.5,585.5 740.5,581.0 742,577.5 742.5,573.0 746.5,566.5 747,563.5 745.5,558.5 746,552.0 749.5,545.5 750,540.5 753,535.5 753.5,532.5 752.5,526.0 754.5,523.0 755.5,518.5 754.5,514.0 752.5,511.0Z"/><path d="M769.5,550.0 765,552.5 762,557.5 762,564.5 760,567.5 759,572.0 760.5,577.0 759.5,584.0 760,587.0 762.5,591.5 766,594.0 769,594.5 776.5,603.5 777,607.0 775.5,612.0 776.5,616.5 778.5,619.5 783.5,622.5 789.5,622.5 794,620.0 796,617.5 797.5,612.0 797,609.0 791.5,601.0 793,593.5 791.5,588.0 787.5,584.0 783.5,583.0 780.5,580.0 780,575.5 783,571.5 789,570.5 792.5,568.0 795,563.5 795,557.5 792.5,553.0 787.5,550.0 784.5,549.5 779,551.0 772.5,549.5Z"/><path d="M784.5,591.0 779,595.5 777.5,599.0 777.5,605.0 779.5,609.0 779.5,616.5 781.5,620.5 785,624.0 786.5,629.5 792,635.0 793.5,640.5 800.5,647.0 802,650.5 806,655.5 806.5,665.0 809,669.5 809,676.0 807,682.0 810.5,692.5 810.5,695.0 808,702.0 809,706.5 813.5,711.5 819,713.0 821.5,712.5 828,715.0 834.5,721.0 839,722.0 843.5,721.0 848.5,716.5 850,711.0 848.5,705.5 843,700.0 841.5,695.5 841.5,692.0 844,688.5 845,684.0 843.5,678.5 838.5,673.0 838,667.5 839,664.0 838,659.5 832.5,653.5 832,650.0 830,646.0 823,640.0 821,636.5 819.5,629.0 816,624.0 815.5,620.0 812.5,615.5 812,610.5 808.5,605.5 807,599.5 805,596.5 801.5,594.0 796.5,593.0 792,590.5 789,590.0Z"/><path d="M913.5,690.5 908,689.0 902.5,690.5 900,692.5 897.5,697.0 895,699.5 892.5,700.5 888.5,705.0 883.5,706.0 878,710.5 875,711.0 871.5,713.0 863.5,714.0 858.5,718.5 857,724.0 858,728.5 861,732.5 862,737.5 866,742.5 867.5,747.5 871.5,751.5 877,753.0 881,752.5 888,754.5 895,752.5 899,753.0 903.5,752.0 908.5,747.5 910,739.5 913,734.5 913.5,731.5 912.5,725.0 914,719.0 917.5,713.5 917.5,705.0 919,700.0 917.5,694.5Z"/><path d="M987,508.0 980.5,510.0 976,515.5 975,520.0 978,530.0 976,533.5 975,539.0 972,542.5 970,549.0 972,555.0 972,558.0 970.5,561.0 970,569.0 967.5,573.5 967.5,582.0 966.5,586.5 962,593.5 961,598.0 961.5,601.5 956,608.5 955,613.0 955.5,617.5 949.5,624.0 947,629.5 946.5,633.0 948.5,640.5 953,645.5 958.5,648.0 962,648.5 968.5,647.0 971,645.5 975.5,640.5 977.5,631.5 981,625.5 981.5,622.0 980.5,616.0 982.5,612.0 983,606.0 986,601.0 986,593.0 990,588.5 992,582.0 991,578.5 991,572.0 993,568.5 994,564.0 993,558.5 995.5,554.0 995.5,546.5 998,542.5 999,538.0 998,533.5 996,530.0 999,520.0 997,513.5 993.5,510.0Z"/><path d="M1007.5,570.5 1003.5,574.5 1002,580.0 1004,588.0 1002,591.5 1001,596.0 1003,602.0 1003,610.5 1000,615.0 999.5,618.0 1001,623.0 1004,626.0 1009,627.5 1022.5,624.0 1024.5,624.5 1032.5,630.5 1034,635.5 1033,642.0 1034,646.5 1036.5,651.5 1036,658.0 1037.5,663.5 1044.5,670.0 1046,675.5 1048,678.5 1054.5,684.0 1057.5,685.0 1062,691.0 1068,695.0 1068.5,698.5 1067.5,702.0 1069,707.0 1074,711.0 1077,711.5 1082,710.0 1086,705.0 1086,698.0 1088.5,691.0 1085,678.0 1077.5,671.0 1078,668.0 1082.5,663.5 1084,658.0 1083,653.5 1080,649.0 1080,643.5 1076.5,638.5 1075,631.0 1071,627.0 1065.5,625.5 1061.5,621.5 1058.5,620.0 1054,619.5 1052,617.5 1051.5,613.5 1053,609.0 1052.5,606.0 1049.5,601.0 1050,597.0 1049,592.5 1044.5,587.0 1041,585.5 1034,585.0 1030,582.5 1023,576.0 1021,572.5 1017.5,570.0 1013,569.0Z"/><path d="M1084.5,644.5 1082.5,646.5 1081,651.0 1083,656.0 1083,659.0 1081.5,661.0 1080,667.0 1076,672.0 1075.5,675.0 1077,680.0 1083.5,685.5 1085,689.0 1089,693.0 1090,696.5 1093.5,699.5 1098.5,699.5 1102,696.5 1103.5,691.5 1105.5,689.5 1107.5,689.0 1112.5,691.5 1116.5,696.5 1121.5,698.0 1124.5,701.0 1128,702.0 1131.5,701.0 1134.5,697.5 1135,695.0 1134,689.0 1136.5,685.5 1136.5,680.5 1131.5,674.5 1132,672.0 1131,668.5 1128.5,666.0 1126,665.5 1122.5,661.5 1120,660.5 1117.5,658.0 1117,651.5 1115,648.0 1113,646.5 1109,645.5 1105,646.5 1102,649.0 1099.5,649.5 1097.5,649.0 1093.5,644.5 1089,643.0Z"/><path d="M1179.5,447.5 1173.5,451.5 1171,458.5 1172,463.0 1175,467.5 1174,473.0 1174.5,476.0 1177.5,481.5 1176.5,487.5 1177.5,493.0 1175.5,499.0 1177,504.0 1177,516.0 1174.5,523.0 1177,530.0 1176,535.5 1176.5,538.5 1180.5,544.5 1183,546.0 1188,547.0 1194,555.0 1192.5,562.0 1193.5,569.0 1191.5,575.0 1192.5,579.5 1197,585.0 1198.5,589.5 1198.5,599.5 1200.5,603.0 1199.5,610.0 1200,613.0 1204,618.0 1206,619.0 1212,619.5 1215.5,622.5 1218,628.0 1219,634.0 1220.5,636.0 1220,640.5 1221,644.5 1224.5,648.0 1228.5,649.0 1231,648.5 1234.5,646.5 1236.5,643.0 1237,640.5 1236,636.5 1234.5,634.5 1235,630.0 1233,622.5 1236.5,617.0 1237.5,612.0 1242.5,606.0 1242.5,600.0 1238.5,595.0 1232,593.0 1229.5,590.5 1227,585.5 1227.5,582.0 1226.5,577.5 1224,573.5 1224,567.5 1219.5,560.5 1221,553.5 1220.5,550.5 1219,547.5 1214,543.0 1211.5,537.0 1208.5,534.0 1208,526.5 1206,522.5 1202,518.0 1203,510.5 1202,504.0 1203.5,499.0 1202.5,494.5 1199.5,490.0 1198.5,483.0 1196,479.0 1197,473.0 1196,468.5 1193,464.0 1194,458.5 1193,454.0 1191.5,451.5 1187,448.0 1182.5,447.0Z"/><path d="M1209,511.0 1205,512.0 1201.5,515.5 1200.5,519.5 1201.5,523.5 1205,527.0 1209,528.0 1213,527.0 1216.5,523.5 1217.5,519.5 1216.5,515.5 1213,512.0Z"/><path d="M1245.5,538.5 1243.5,539.5 1240.5,543.5 1240,546.0 1241.5,550.0 1241.5,553.5 1237,558.5 1234,559.5 1231,562.5 1229.5,567.5 1231,572.5 1238,579.0 1239,584.5 1238.5,589.0 1240,593.5 1243.5,596.0 1247,596.5 1249,598.5 1252.5,599.5 1257.5,604.5 1259,608.0 1264,612.0 1264,617.5 1265.5,621.5 1266,627.0 1267.5,629.5 1267,635.0 1268.5,639.5 1272,642.0 1277,642.0 1280.5,639.5 1282,635.0 1280,630.0 1280.5,624.5 1279,620.5 1279,616.0 1281.5,613.0 1284,612.5 1286.5,610.5 1288,606.5 1287.5,604.0 1284,600.5 1281.5,600.0 1275,602.0 1273,601.5 1271,599.5 1270.5,595.5 1274.5,586.0 1274.5,581.0 1265.5,570.0 1264.5,565.5 1258.5,557.0 1257,551.0 1255.5,549.0 1256,546.0 1254.5,541.5 1250.5,538.5Z"/><path d="M1365.5,619.0 1362,623.0 1359,623.5 1355.5,627.0 1354.5,631.0 1355.5,635.0 1357.5,637.5 1358.5,642.5 1357.5,648.0 1359,652.5 1359,662.5 1357.5,667.0 1358.5,671.0 1362,674.5 1365,675.0 1368,678.5 1368,683.5 1370.5,687.5 1371.5,693.0 1375,697.0 1376,699.5 1376,703.5 1374.5,708.0 1375.5,712.0 1379,715.5 1383,716.5 1387,715.5 1393,709.0 1397,708.0 1400,708.5 1403,712.5 1403.5,716.0 1405,717.5 1407.5,724.0 1406.5,729.0 1408.5,734.5 1408.5,737.0 1405.5,746.0 1407,750.5 1410.5,753.0 1414,753.5 1419,760.0 1421,761.5 1425,762.5 1429.5,766.0 1432,766.5 1437,765.0 1445,768.5 1449.5,767.0 1451,765.5 1452.5,761.0 1451,757.0 1451.5,753.5 1450,749.5 1450.5,746.0 1449.5,742.0 1447,739.0 1445,734.0 1445.5,731.0 1444,726.5 1442.5,725.0 1438,723.5 1432,725.5 1430,725.0 1419,710.0 1419,707.0 1421,704.0 1422,700.0 1420.5,695.5 1421.5,690.0 1420.5,686.0 1418.5,683.0 1419,680.0 1418,676.0 1414,671.5 1412,667.0 1409,664.5 1406.5,664.0 1404,661.5 1403.5,658.0 1404.5,655.0 1403.5,651.0 1400,647.5 1396,646.5 1387.5,650.0 1385.5,649.5 1383.5,647.5 1380.5,642.5 1380,630.0 1377.5,626.0 1376,620.5 1374.5,619.0 1370,617.5Z"/></g>
<g fill="rgb(62,172,34)" fill-opacity="0.85">
<circle cx="107.8" cy="636.7" r="7.2"/><circle cx="115.6" cy="625.6" r="7.2"/><circle cx="108.9" cy="621.1" r="7.2"/><circle cx="110" cy="614.4" r="7.2"/><circle cx="120" cy="615.6" r="7.2"/><circle cx="110" cy="604.4" r="7.2"/><circle cx="117.8" cy="604.4" r="7.2"/><circle cx="112.2" cy="593.3" r="7.2"/><circle cx="122.2" cy="596.7" r="7.2"/><circle cx="122.5" cy="567.5" r="7.7"/><circle cx="122.5" cy="580" r="7.7"/><circle cx="110" cy="590" r="7.2"/><circle cx="120" cy="595" r="7.7"/><circle cx="112.5" cy="605" r="7.7"/><circle cx="115" cy="615" r="7.7"/><circle cx="117.5" cy="625" r="7.2"/><circle cx="107.5" cy="620" r="7.2"/><circle cx="110.8" cy="630.5" r="7.2"/><circle cx="107.8" cy="628.9" r="6.8"/><circle cx="112.6" cy="630.8" r="7.1"/><circle cx="107.6" cy="628.4" r="7"/><circle cx="108.6" cy="612.7" r="6.8"/><circle cx="111.4" cy="613.2" r="7.1"/><circle cx="113.2" cy="620.1" r="7.3"/><circle cx="116" cy="609.1" r="7.4"/><circle cx="115.4" cy="610.9" r="7.1"/><circle cx="113.5" cy="617" r="7.1"/><circle cx="115.5" cy="599.6" r="7.2"/><circle cx="111.3" cy="597.2" r="7.3"/><circle cx="114.3" cy="598.9" r="7.1"/><circle cx="110.5" cy="612.5" r="7.5"/><circle cx="113" cy="597.7" r="7.3"/><circle cx="117.5" cy="586.7" r="7.4"/><circle cx="122.4" cy="588.4" r="7.6"/><circle cx="116.3" cy="593" r="6.9"/><circle cx="117.1" cy="586.1" r="7.3"/><circle cx="119.6" cy="587.2" r="7.2"/><circle cx="110.6" cy="597.6" r="7.4"/><circle cx="111.2" cy="612.9" r="7"/><circle cx="170" cy="525" r="7.7"/><circle cx="170" cy="537.5" r="7.7"/><circle cx="167.5" cy="550" r="7.7"/><circle cx="167.5" cy="560" r="7.7"/><circle cx="162.5" cy="570" r="7.7"/><circle cx="162.5" cy="582.5" r="8.2"/><circle cx="160" cy="587.5" r="8.2"/><circle cx="157" cy="571" r="7.2"/><circle cx="162.3" cy="565.6" r="7.2"/><circle cx="162.7" cy="579" r="8.1"/><circle cx="156.6" cy="579.6" r="7.5"/><circle cx="172.5" cy="483.8" r="7.7"/><circle cx="173" cy="478" r="7.7"/><circle cx="173.8" cy="466.3" r="7.7"/><circle cx="225.8" cy="492" r="12.1"/><circle cx="230" cy="510" r="11.6"/><circle cx="232" cy="530" r="11.6"/><circle cx="238" cy="545" r="11.6"/><circle cx="237" cy="560" r="11.6"/><circle cx="235" cy="565" r="10.5"/><circle cx="222" cy="505" r="9.5"/><circle cx="240" cy="548" r="10.5"/><circle cx="236.2" cy="538.9" r="10.7"/><circle cx="238.5" cy="555.3" r="11.3"/><circle cx="252" cy="482" r="11.6"/><circle cx="254" cy="496" r="11.6"/><circle cx="250" cy="515" r="12.1"/><circle cx="248" cy="530" r="11.6"/><circle cx="245" cy="550" r="10.5"/><circle cx="257" cy="515" r="9.5"/><circle cx="240" cy="548" r="10.5"/><circle cx="256.9" cy="505.3" r="10.9"/><circle cx="248.5" cy="540.3" r="11.1"/><circle cx="250.6" cy="521.4" r="10"/><circle cx="241.5" cy="537.9" r="10.4"/><circle cx="353" cy="200.7" r="18.4"/><circle cx="360" cy="212" r="18.4"/><circle cx="355.3" cy="228.7" r="18.9"/><circle cx="359" cy="240" r="18.9"/><circle cx="357.7" cy="245" r="17.9"/><circle cx="364.7" cy="261.3" r="17.9"/><circle cx="348.3" cy="268.3" r="14.7"/><circle cx="367" cy="280" r="18.9"/><circle cx="360" cy="298.7" r="18.9"/><circle cx="357.7" cy="319.7" r="17.9"/><circle cx="371.7" cy="326.7" r="17.9"/><circle cx="378.7" cy="343" r="16.8"/><circle cx="395" cy="338.3" r="16.8"/><circle cx="397.3" cy="357" r="15.8"/><circle cx="385.7" cy="305.7" r="16.8"/><circle cx="377" cy="283" r="15.8"/><circle cx="400" cy="315" r="15.8"/><circle cx="358.9" cy="219.9" r="18.6"/><circle cx="360.3" cy="228.6" r="17.1"/><circle cx="360.1" cy="245" r="18"/><circle cx="353.8" cy="254.2" r="16.4"/><circle cx="365.2" cy="259.6" r="18"/><circle cx="360.6" cy="263" r="17.6"/><circle cx="360.8" cy="279.8" r="18.7"/><circle cx="351.3" cy="284.6" r="17.4"/><circle cx="363.6" cy="273.8" r="14.5"/><circle cx="360.2" cy="299.4" r="18.2"/><circle cx="378.5" cy="291.3" r="17.9"/><circle cx="365.8" cy="333.5" r="17.7"/><circle cx="370.6" cy="310.5" r="16.6"/><circle cx="384.3" cy="317" r="17.5"/><circle cx="379.9" cy="323.9" r="16.9"/><circle cx="389.6" cy="329.2" r="16.2"/><circle cx="390.6" cy="321.9" r="17.1"/><circle cx="415" cy="287" r="15.8"/><circle cx="413.7" cy="305.7" r="16.8"/><circle cx="406.7" cy="324.3" r="16.8"/><circle cx="417.2" cy="263.7" r="15.8"/><circle cx="420" cy="275" r="15.8"/><circle cx="395" cy="338.3" r="16.8"/><circle cx="400" cy="315" r="15.8"/><circle cx="409.4" cy="302" r="16.4"/><circle cx="413.9" cy="289.7" r="16.4"/><circle cx="407.4" cy="323.7" r="16"/><circle cx="467.6" cy="143" r="18.7"/><circle cx="478" cy="150" r="16.5"/><circle cx="467.7" cy="152" r="18.7"/><circle cx="460.7" cy="170.7" r="18.7"/><circle cx="481.7" cy="165" r="17.6"/><circle cx="500.3" cy="180" r="18.2"/><circle cx="474.7" cy="191.7" r="18.7"/><circle cx="500.3" cy="198.7" r="19.8"/><circle cx="481.7" cy="212.7" r="18.7"/><circle cx="505" cy="217.3" r="19.8"/><circle cx="488.7" cy="233.7" r="18.7"/><circle cx="507.3" cy="236" r="18.7"/><circle cx="495.7" cy="247.7" r="17.6"/><circle cx="512" cy="250" r="16.5"/><circle cx="512" cy="285" r="18.7"/><circle cx="510" cy="303" r="16.5"/><circle cx="533" cy="301.3" r="17.6"/><circle cx="547" cy="296.7" r="15.4"/><circle cx="517.8" cy="277.8" r="17.6"/><circle cx="513.3" cy="300" r="16.5"/><circle cx="530" cy="290" r="17.6"/><circle cx="551" cy="300" r="16.5"/><circle cx="531" cy="333.3" r="17.6"/><circle cx="540" cy="357.8" r="15.4"/><circle cx="528" cy="322" r="15.4"/><circle cx="545" cy="330" r="16.5"/><circle cx="573.3" cy="344.4" r="17.6"/><circle cx="571" cy="371" r="15.4"/><circle cx="573.3" cy="391" r="16.5"/><circle cx="580" cy="420" r="14.3"/><circle cx="582" cy="442" r="15.4"/><circle cx="593" cy="451" r="13.2"/><circle cx="555" cy="318" r="13.2"/><circle cx="560" cy="355" r="15.4"/><circle cx="582.4" cy="429.3" r="13.2"/><circle cx="596.4" cy="454.2" r="13.2"/><circle cx="580.9" cy="474.4" r="13.2"/><circle cx="598" cy="482.2" r="14.3"/><circle cx="621.3" cy="482.2" r="14.3"/><circle cx="601.1" cy="505.5" r="14.3"/><circle cx="616.7" cy="507" r="14.3"/><circle cx="599.5" cy="518" r="13.2"/><circle cx="616.7" cy="521" r="13.2"/><circle cx="632.2" cy="493.1" r="13.2"/><circle cx="582.4" cy="451.1" r="13.2"/><circle cx="486.4" cy="167" r="16.8"/><circle cx="475.6" cy="170.8" r="18"/><circle cx="485.6" cy="164.1" r="18.1"/><circle cx="470.4" cy="172" r="19.3"/><circle cx="481.5" cy="171.1" r="17.1"/><circle cx="492.5" cy="181" r="19.1"/><circle cx="488.2" cy="194.8" r="17.3"/><circle cx="498.7" cy="199.1" r="18.7"/><circle cx="486.9" cy="207.9" r="19.9"/><circle cx="485.3" cy="211.5" r="19.4"/><circle cx="494.7" cy="216.3" r="18.1"/><circle cx="504.1" cy="217.3" r="17.9"/><circle cx="492.9" cy="226.1" r="18.4"/><circle cx="492" cy="228.9" r="17.2"/><circle cx="500.3" cy="232.5" r="19"/><circle cx="510.5" cy="233.2" r="16.9"/><circle cx="513.8" cy="256.6" r="16.8"/><circle cx="505.2" cy="265.8" r="18.6"/><circle cx="509" cy="261.1" r="16.8"/><circle cx="509.6" cy="267.5" r="16.6"/><circle cx="530.5" cy="287.7" r="16.2"/><circle cx="531.2" cy="293.4" r="17.7"/><circle cx="518.6" cy="304.1" r="15.8"/><circle cx="528.2" cy="298.2" r="14.9"/><circle cx="520.1" cy="318.4" r="16.4"/><circle cx="529.8" cy="317.2" r="17.4"/><circle cx="538.4" cy="315.9" r="16"/><circle cx="543.8" cy="309.9" r="14.3"/><circle cx="530.6" cy="290" r="16.9"/><circle cx="530.4" cy="300.9" r="14.7"/><circle cx="536.2" cy="308.4" r="14.5"/><circle cx="547.6" cy="313.4" r="15.8"/><circle cx="532.3" cy="292" r="15.7"/><circle cx="532.1" cy="301.2" r="15.2"/><circle cx="520.1" cy="317.7" r="16.4"/><circle cx="532.4" cy="306.2" r="16"/><circle cx="539.9" cy="316" r="16"/><circle cx="540.2" cy="311.7" r="16.2"/><circle cx="545.4" cy="314.5" r="16.6"/><circle cx="542.9" cy="325.5" r="15.5"/><circle cx="547.2" cy="341.8" r="15.9"/><circle cx="541" cy="343.6" r="14.9"/><circle cx="555.2" cy="347.6" r="15.3"/><circle cx="554.1" cy="367.8" r="14.9"/><circle cx="541.3" cy="318.7" r="14.3"/><circle cx="558.3" cy="338.9" r="17.5"/><circle cx="549.7" cy="344.2" r="14.8"/><circle cx="562.6" cy="332.3" r="14.9"/><circle cx="578.1" cy="405.2" r="15.2"/><circle cx="583" cy="435.4" r="14.1"/><circle cx="582.7" cy="458.2" r="14.7"/><circle cx="590.2" cy="438.9" r="13.2"/><circle cx="588.3" cy="463.4" r="12.2"/><circle cx="592.1" cy="467.1" r="14.2"/><circle cx="589.5" cy="441.7" r="12.2"/><circle cx="587.3" cy="463.2" r="12.6"/><circle cx="597.6" cy="468.2" r="14.3"/><circle cx="605" cy="496.4" r="14.6"/><circle cx="613.5" cy="495.8" r="14.3"/><circle cx="661" cy="465.1" r="12.1"/><circle cx="661" cy="474.4" r="12.1"/><circle cx="660.2" cy="493.1" r="11"/><circle cx="654" cy="502.4" r="12.1"/><circle cx="657.1" cy="519.5" r="12.1"/><circle cx="655.8" cy="488" r="12.3"/><circle cx="658.7" cy="506.3" r="11"/><circle cx="707.3" cy="570" r="12.1"/><circle cx="712" cy="588.7" r="12.1"/><circle cx="716.7" cy="607.3" r="12.1"/><circle cx="716.7" cy="623.7" r="12.1"/><circle cx="730.7" cy="574.7" r="12.1"/><circle cx="735.3" cy="551.3" r="11"/><circle cx="742.3" cy="532.7" r="11"/><circle cx="744.7" cy="518.7" r="11"/><circle cx="726" cy="593.3" r="12.1"/><circle cx="718.9" cy="572.8" r="11.8"/><circle cx="721.6" cy="582.1" r="11.4"/><circle cx="734.8" cy="563.3" r="11.8"/><circle cx="739.6" cy="542.3" r="10.3"/><circle cx="772.7" cy="560.7" r="11"/><circle cx="784.3" cy="560.7" r="11"/><circle cx="770.3" cy="584" r="11"/><circle cx="782" cy="593.3" r="11"/><circle cx="786.7" cy="612" r="11"/><circle cx="769.9" cy="572.2" r="11.2"/><circle cx="789" cy="602" r="12"/><circle cx="796" cy="624" r="10.8"/><circle cx="811" cy="644" r="10.8"/><circle cx="824" cy="664" r="10.8"/><circle cx="822" cy="684" r="10.8"/><circle cx="831" cy="696" r="10.8"/><circle cx="803" cy="635" r="10.8"/><circle cx="797" cy="604" r="10.8"/><circle cx="803" cy="624" r="10.8"/><circle cx="812" cy="644" r="12"/><circle cx="817" cy="662" r="10.8"/><circle cx="828" cy="664" r="10.8"/><circle cx="819" cy="682" r="12"/><circle cx="819" cy="702" r="10.8"/><circle cx="834" cy="684" r="10.8"/><circle cx="839" cy="711" r="10.8"/><circle cx="800" cy="615" r="10.8"/><circle cx="808" cy="635" r="10.8"/><circle cx="825" cy="690" r="10.8"/><circle cx="790.3" cy="613.7" r="11.4"/><circle cx="794.7" cy="613.8" r="11.7"/><circle cx="804.5" cy="633.2" r="10.8"/><circle cx="798.7" cy="614.1" r="11.1"/><circle cx="803.7" cy="634.3" r="10.7"/><circle cx="817.9" cy="653.7" r="11.2"/><circle cx="805" cy="634.8" r="10.3"/><circle cx="820.6" cy="673.8" r="10.5"/><circle cx="816.6" cy="654.9" r="10.9"/><circle cx="827" cy="675" r="10.4"/><circle cx="819.1" cy="673.1" r="10.7"/><circle cx="826.6" cy="674.5" r="10.6"/><circle cx="799.3" cy="625.3" r="10.7"/><circle cx="802.4" cy="613.3" r="10.1"/><circle cx="809.1" cy="633.3" r="11.4"/><circle cx="821" cy="653.2" r="11.4"/><circle cx="819.9" cy="671.8" r="10.6"/><circle cx="825.9" cy="674.2" r="11.5"/><circle cx="829.1" cy="674.6" r="10.2"/><circle cx="820.5" cy="692" r="10.5"/><circle cx="827.1" cy="693.5" r="10.3"/><circle cx="829.8" cy="704.7" r="10.8"/><circle cx="832.4" cy="700.2" r="10.5"/><circle cx="805.7" cy="624.3" r="10.8"/><circle cx="868" cy="724" r="10.8"/><circle cx="877" cy="742" r="10.8"/><circle cx="888" cy="716" r="10.8"/><circle cx="899" cy="742" r="10.8"/><circle cx="903" cy="720" r="10.8"/><circle cx="908" cy="700" r="10.8"/><circle cx="872" cy="733" r="10.8"/><circle cx="885" cy="730" r="10.8"/><circle cx="893" cy="740" r="10.8"/><circle cx="872.2" cy="733.2" r="10.5"/><circle cx="878.2" cy="720.4" r="10.2"/><circle cx="888" cy="743.7" r="11"/><circle cx="898.5" cy="708.6" r="10.1"/><circle cx="879.9" cy="724.4" r="10.4"/><circle cx="891.8" cy="727.7" r="11.2"/><circle cx="903.6" cy="731.5" r="10"/><circle cx="907.4" cy="710.5" r="10.7"/><circle cx="894.3" cy="725.6" r="10.3"/><circle cx="897.2" cy="729.6" r="10.5"/><circle cx="882.2" cy="737.5" r="10.8"/><circle cx="963" cy="631" r="10.8"/><circle cx="972" cy="609" r="10.8"/><circle cx="977" cy="587" r="10.8"/><circle cx="981" cy="567" r="10.8"/><circle cx="962" cy="633" r="15.6"/><circle cx="967" cy="613" r="12"/><circle cx="973" cy="598" r="12"/><circle cx="980" cy="582" r="12"/><circle cx="982" cy="564" r="12"/><circle cx="982" cy="549" r="12"/><circle cx="987" cy="538" r="12"/><circle cx="987" cy="520" r="12"/><circle cx="966.3" cy="619.5" r="10.8"/><circle cx="975.5" cy="598.2" r="11"/><circle cx="968.9" cy="621.8" r="12.5"/><circle cx="977.1" cy="576.6" r="10.2"/><circle cx="980.8" cy="575.8" r="10.7"/><circle cx="984.7" cy="551" r="11.3"/><circle cx="1013" cy="580" r="10.8"/><circle cx="1013" cy="596" r="12"/><circle cx="1009" cy="618" r="9.6"/><circle cx="1024" cy="609" r="13.2"/><circle cx="1036" cy="598" r="12"/><circle cx="1038" cy="609" r="13.2"/><circle cx="1044" cy="627" r="10.8"/><circle cx="1044" cy="642" r="10.8"/><circle cx="1047" cy="658" r="10.8"/><circle cx="1056" cy="671" r="10.8"/><circle cx="1067" cy="636" r="9.6"/><circle cx="1071" cy="658" r="9.6"/><circle cx="1020" cy="600" r="12"/><circle cx="1030" cy="603" r="14.4"/><circle cx="1031" cy="603" r="14.4"/><circle cx="1038" cy="597" r="12"/><circle cx="1043" cy="622" r="9.6"/><circle cx="1045" cy="635" r="9.6"/><circle cx="1045" cy="645" r="9.6"/><circle cx="1052" cy="660" r="12"/><circle cx="1061" cy="674" r="12"/><circle cx="1066" cy="635" r="9.6"/><circle cx="1068" cy="645" r="9.6"/><circle cx="1073" cy="658" r="10.8"/><circle cx="1077" cy="683" r="9.6"/><circle cx="1077" cy="702" r="9.6"/><circle cx="1079" cy="691" r="9.6"/><circle cx="1058" cy="665" r="10.8"/><circle cx="1016.2" cy="590.1" r="11"/><circle cx="1019.8" cy="592.8" r="12"/><circle cx="1019" cy="587.7" r="11.5"/><circle cx="1025.4" cy="595" r="13.7"/><circle cx="1013.1" cy="607.4" r="10.5"/><circle cx="1024.6" cy="595.4" r="11.5"/><circle cx="1024.1" cy="605.3" r="12.1"/><circle cx="1025.5" cy="597.1" r="11.6"/><circle cx="1017.2" cy="614.6" r="11.1"/><circle cx="1013" cy="608.1" r="10.5"/><circle cx="1019.2" cy="610.1" r="12.2"/><circle cx="1016.5" cy="613.3" r="10.6"/><circle cx="1024.3" cy="608.9" r="12.2"/><circle cx="1034" cy="618.1" r="11.4"/><circle cx="1033.8" cy="615.1" r="11.6"/><circle cx="1039.4" cy="610" r="10.9"/><circle cx="1038.8" cy="618.1" r="11.9"/><circle cx="1041.9" cy="626.5" r="10.5"/><circle cx="1037.6" cy="614.6" r="12.8"/><circle cx="1035.3" cy="616.2" r="13"/><circle cx="1045.2" cy="636" r="9.6"/><circle cx="1055.6" cy="629.3" r="9.8"/><circle cx="1054.9" cy="636.9" r="9.9"/><circle cx="1043.1" cy="632" r="10.2"/><circle cx="1048.2" cy="650.9" r="11.8"/><circle cx="1055.2" cy="639.3" r="9.8"/><circle cx="1055.8" cy="645.4" r="10.2"/><circle cx="1059" cy="660.4" r="10.3"/><circle cx="1048.4" cy="646.3" r="9.6"/><circle cx="1055" cy="665.2" r="11.8"/><circle cx="1061.9" cy="662.7" r="10.5"/><circle cx="1065.8" cy="666.3" r="10.1"/><circle cx="1067.4" cy="675.5" r="10.5"/><circle cx="1066.8" cy="647.4" r="9.8"/><circle cx="1056" cy="634.4" r="9.7"/><circle cx="1070.9" cy="646.7" r="9.4"/><circle cx="1061.4" cy="658.3" r="11.1"/><circle cx="1063.9" cy="664.7" r="10.6"/><circle cx="1038.9" cy="610.8" r="11.3"/><circle cx="1037.3" cy="612.3" r="11.4"/><circle cx="1043" cy="609" r="10.2"/><circle cx="1055.5" cy="635" r="9"/><circle cx="1056.5" cy="643.1" r="9"/><circle cx="1053.5" cy="653.7" r="10.3"/><circle cx="1061.4" cy="653.9" r="10.2"/><circle cx="1062.6" cy="659.8" r="11.7"/><circle cx="1065.8" cy="665.1" r="10.9"/><circle cx="1068" cy="680.3" r="10.9"/><circle cx="1069.6" cy="683" r="11"/><circle cx="1069.1" cy="646.6" r="9.8"/><circle cx="1062.2" cy="654.6" r="10.3"/><circle cx="1079.1" cy="692.5" r="9.2"/><circle cx="1089" cy="651" r="7.8"/><circle cx="1089" cy="665" r="8.4"/><circle cx="1093" cy="684" r="9.6"/><circle cx="1096" cy="693" r="7.2"/><circle cx="1104" cy="674" r="9.6"/><circle cx="1109" cy="654" r="8.4"/><circle cx="1111" cy="663" r="8.4"/><circle cx="1116" cy="684" r="8.4"/><circle cx="1125" cy="672" r="7.2"/><circle cx="1128" cy="695" r="7.2"/><circle cx="1130" cy="683" r="7.2"/><circle cx="1085" cy="675" r="9.6"/><circle cx="1092.1" cy="674.3" r="9"/><circle cx="1096.1" cy="670.2" r="9.2"/><circle cx="1105.1" cy="663.7" r="8.5"/><circle cx="1111" cy="677.8" r="8.5"/><circle cx="1094.4" cy="673.4" r="9"/><circle cx="1117.9" cy="667.6" r="7.4"/><circle cx="1119.9" cy="677.5" r="7.6"/><circle cx="1121.1" cy="690.5" r="7.7"/><circle cx="1122.9" cy="681.6" r="7.4"/><circle cx="1182.7" cy="458.6" r="11.6"/><circle cx="1185.6" cy="473" r="11.6"/><circle cx="1187.8" cy="487.5" r="11.6"/><circle cx="1190.7" cy="510.6" r="12.6"/><circle cx="1189.2" cy="510.7" r="12.6"/><circle cx="1191" cy="523.1" r="12.6"/><circle cx="1187.4" cy="535.6" r="11.6"/><circle cx="1201.7" cy="544.4" r="12.6"/><circle cx="1205.2" cy="562.2" r="12.6"/><circle cx="1210.6" cy="553.3" r="10.5"/><circle cx="1215.9" cy="581.8" r="11.6"/><circle cx="1210.6" cy="596" r="12.6"/><circle cx="1224.8" cy="603.1" r="12.6"/><circle cx="1233.7" cy="603.1" r="9.5"/><circle cx="1208.8" cy="610.2" r="9.5"/><circle cx="1226.6" cy="613.8" r="10.5"/><circle cx="1226.6" cy="629.8" r="8.4"/><circle cx="1228.3" cy="640.4" r="8.4"/><circle cx="1196" cy="530" r="12.6"/><circle cx="1203" cy="575" r="11.6"/><circle cx="1191.3" cy="498.8" r="12.1"/><circle cx="1187.7" cy="499.1" r="11.8"/><circle cx="1190.8" cy="523.3" r="12.3"/><circle cx="1186.4" cy="523" r="11.9"/><circle cx="1196.3" cy="533.8" r="11.9"/><circle cx="1213.2" cy="570.6" r="11.7"/><circle cx="1206.4" cy="564" r="10.3"/><circle cx="1218.7" cy="593.1" r="11.5"/><circle cx="1222.6" cy="598.1" r="10.2"/><circle cx="1216.5" cy="606.8" r="11.6"/><circle cx="1208.9" cy="584.7" r="12"/><circle cx="1217.8" cy="609" r="10.6"/><circle cx="1217.7" cy="612" r="9.3"/><circle cx="1224.5" cy="621.8" r="9.1"/><circle cx="1208.8" cy="519.6" r="8.4"/><circle cx="1247.9" cy="546.2" r="7.9"/><circle cx="1249.7" cy="555.1" r="8.4"/><circle cx="1239" cy="567.6" r="9.5"/><circle cx="1256.8" cy="569.3" r="8.4"/><circle cx="1246.1" cy="588.9" r="7.4"/><circle cx="1258.6" cy="578.2" r="7.4"/><circle cx="1267.4" cy="583.6" r="7.4"/><circle cx="1260.3" cy="596" r="8.4"/><circle cx="1271" cy="610.2" r="7.4"/><circle cx="1272.8" cy="624.4" r="7.4"/><circle cx="1274.6" cy="635.1" r="7.4"/><circle cx="1281.7" cy="606.7" r="6.3"/><circle cx="1248" cy="575" r="8.4"/><circle cx="1245.7" cy="562.5" r="9"/><circle cx="1252.7" cy="562.5" r="8.7"/><circle cx="1248" cy="567.4" r="8.5"/><circle cx="1261.4" cy="577" r="7.9"/><circle cx="1251.9" cy="583" r="7.4"/><circle cx="1253.4" cy="592.1" r="8"/><circle cx="1245.6" cy="581.7" r="7.5"/><circle cx="1257.9" cy="587.3" r="7.6"/><circle cx="1264.7" cy="590.3" r="8"/><circle cx="1265.2" cy="603.4" r="7.4"/><circle cx="1271.7" cy="617.3" r="7.4"/><circle cx="1375" cy="650" r="8.9"/><circle cx="1380" cy="670" r="8.9"/><circle cx="1372" cy="640" r="8.4"/><circle cx="1390" cy="678" r="8.4"/><circle cx="1410" cy="680" r="8.9"/><circle cx="1413" cy="700" r="8.9"/><circle cx="1370" cy="625" r="7.4"/><circle cx="1385" cy="690" r="8.4"/><circle cx="1420" cy="725" r="8.4"/><circle cx="1428" cy="745" r="8.4"/><circle cx="1363" cy="631" r="8.4"/><circle cx="1366" cy="648" r="8.4"/><circle cx="1366" cy="667" r="8.4"/><circle cx="1374" cy="672" r="8.4"/><circle cx="1379" cy="689" r="8.4"/><circle cx="1383" cy="708" r="8.4"/><circle cx="1396" cy="655" r="8.4"/><circle cx="1398" cy="667" r="8.4"/><circle cx="1406" cy="682" r="8.4"/><circle cx="1409" cy="697" r="8.4"/><circle cx="1392" cy="701" r="8.4"/><circle cx="1411" cy="712" r="8.4"/><circle cx="1415" cy="729" r="8.4"/><circle cx="1413" cy="746" r="7.4"/><circle cx="1425" cy="754" r="8.4"/><circle cx="1432" cy="759" r="7.4"/><circle cx="1445" cy="761" r="7.4"/><circle cx="1438" cy="731" r="7.4"/><circle cx="1442" cy="746" r="8.4"/><circle cx="1370" cy="660" r="8.4"/><circle cx="1388" cy="695" r="8.4"/><circle cx="1420" cy="740" r="8.4"/><circle cx="1400" cy="690" r="8.4"/><circle cx="1370.4" cy="658.4" r="8.6"/><circle cx="1378" cy="679.4" r="8.9"/><circle cx="1389.3" cy="670.1" r="8.3"/><circle cx="1372.8" cy="632.3" r="7.7"/><circle cx="1381.7" cy="675.8" r="7.8"/><circle cx="1384.5" cy="683.5" r="7.9"/><circle cx="1398.2" cy="679.1" r="8.3"/><circle cx="1387.8" cy="686.4" r="8.5"/><circle cx="1396.3" cy="682.9" r="7.8"/><circle cx="1412.6" cy="689.8" r="8.8"/><circle cx="1405.1" cy="672.5" r="8.8"/><circle cx="1407.6" cy="688.4" r="8.6"/><circle cx="1410.1" cy="690.8" r="8.3"/><circle cx="1406" cy="695.6" r="8.2"/><circle cx="1383.9" cy="699" r="8.3"/><circle cx="1415.8" cy="718.3" r="8.1"/><circle cx="1420.5" cy="745.8" r="7.5"/><circle cx="1428.8" cy="752.3" r="7.8"/><circle cx="1433.8" cy="738.6" r="8"/><circle cx="1365.4" cy="639.3" r="7.8"/><circle cx="1366.9" cy="657.5" r="8.6"/><circle cx="1375.3" cy="680.8" r="8.1"/><circle cx="1384.7" cy="695.9" r="8.1"/><circle cx="1400.6" cy="675.2" r="7.8"/><circle cx="1406.5" cy="689.7" r="8.7"/><circle cx="1400.6" cy="699.3" r="8.2"/><circle cx="1411.5" cy="704.3" r="8"/><circle cx="1414.1" cy="720.2" r="8"/><circle cx="1415.7" cy="737.7" r="7.6"/><circle cx="1419.9" cy="748.7" r="7.8"/><circle cx="1433.3" cy="749.6" r="8"/><circle cx="1438.4" cy="753.6" r="7.6"/><circle cx="1443.6" cy="753.5" r="8.1"/><circle cx="1439" cy="738.8" r="8.2"/>
</g>
<line x1="38" y1="820.5" x2="1463" y2="820.5" stroke="#55555c" stroke-width="1.5"/>
<line x1="1471" y1="125" x2="1471" y2="819" stroke="#4a4a51" stroke-width="2"/>
<line x1="52.5" y1="821" x2="52.5" y2="829" stroke="#55555c" stroke-width="1"/>
<text x="61.0" y="850" text-anchor="middle" font-size="16" letter-spacing="-0.55" fill="#afafba">2020 Jan</text>
<line x1="163.5" y1="821" x2="163.5" y2="829" stroke="#55555c" stroke-width="1"/>
<text x="163.0" y="850" text-anchor="middle" font-size="16" letter-spacing="-0.55" fill="#afafba">2020 Jul</text>
<line x1="276.5" y1="821" x2="276.5" y2="829" stroke="#55555c" stroke-width="1"/>
<text x="275.5" y="850" text-anchor="middle" font-size="16" letter-spacing="-0.55" fill="#afafba">2021 Jan</text>
<line x1="386.5" y1="821" x2="386.5" y2="829" stroke="#55555c" stroke-width="1"/>
<text x="386.2" y="850" text-anchor="middle" font-size="16" letter-spacing="-0.55" fill="#afafba">2021 Jul</text>
<line x1="499.5" y1="821" x2="499.5" y2="829" stroke="#55555c" stroke-width="1"/>
<text x="498.8" y="850" text-anchor="middle" font-size="16" letter-spacing="-0.55" fill="#afafba">2022 Jan</text>
<line x1="609.5" y1="821" x2="609.5" y2="829" stroke="#55555c" stroke-width="1"/>
<text x="609.5" y="850" text-anchor="middle" font-size="16" letter-spacing="-0.55" fill="#afafba">2022 Jul</text>
<line x1="722.5" y1="821" x2="722.5" y2="829" stroke="#55555c" stroke-width="1"/>
<text x="722.0" y="850" text-anchor="middle" font-size="16" letter-spacing="-0.55" fill="#afafba">2023 Jan</text>
<line x1="833.5" y1="821" x2="833.5" y2="829" stroke="#55555c" stroke-width="1"/>
<text x="832.7" y="850" text-anchor="middle" font-size="16" letter-spacing="-0.55" fill="#afafba">2023 Jul</text>
<line x1="945.5" y1="821" x2="945.5" y2="829" stroke="#55555c" stroke-width="1"/>
<text x="945.2" y="850" text-anchor="middle" font-size="16" letter-spacing="-0.55" fill="#afafba">2024 Jan</text>
<line x1="1057.5" y1="821" x2="1057.5" y2="829" stroke="#55555c" stroke-width="1"/>
<text x="1056.6" y="850" text-anchor="middle" font-size="16" letter-spacing="-0.55" fill="#afafba">2024 Jul</text>
<line x1="1169.5" y1="821" x2="1169.5" y2="829" stroke="#55555c" stroke-width="1"/>
<text x="1169.1" y="850" text-anchor="middle" font-size="16" letter-spacing="-0.55" fill="#afafba">2025 Jan</text>
<line x1="1280.5" y1="821" x2="1280.5" y2="829" stroke="#55555c" stroke-width="1"/>
<text x="1279.8" y="850" text-anchor="middle" font-size="16" letter-spacing="-0.55" fill="#afafba">2025 Jul</text>
<line x1="1392.5" y1="821" x2="1392.5" y2="829" stroke="#55555c" stroke-width="1"/>
<text x="1392.3" y="850" text-anchor="middle" font-size="16" letter-spacing="-0.55" fill="#afafba">2026 Jan</text>
<text x="1486.6" y="163.5" font-size="20" fill="#ffffff" letter-spacing="-0.7">$2</text>
<text x="1486.6" y="294.2" font-size="20" fill="#ffffff" letter-spacing="-0.7">$1</text>
<text x="1486.6" y="336.3" font-size="20" fill="#ffffff" letter-spacing="-0.7">$0.8</text>
<text x="1486.6" y="390.5" font-size="20" fill="#ffffff" letter-spacing="-0.7">$0.6</text>
<text x="1486.6" y="467.0" font-size="20" fill="#ffffff" letter-spacing="-0.7">$0.4</text>
<text x="1486.6" y="597.7" font-size="20" fill="#ffffff" letter-spacing="-0.7">$0.2</text>
<text x="1486.6" y="728.4" font-size="20" fill="#ffffff" letter-spacing="-0.7">$0.1</text>
<text x="1486.6" y="770.5" font-size="20" fill="#ffffff" letter-spacing="-0.7">$0.08</text>
<text x="1486.6" y="824.7" font-size="20" fill="#ffffff" letter-spacing="-0.7">$0.06</text>
<text transform="translate(1546,473) rotate(90)" text-anchor="middle" font-size="20" letter-spacing="-1" fill="#ffffff">Price</text>
<text x="1560.6" y="877.5" text-anchor="end" font-size="13.2" fill="#a3a3ab">© CryptoQuant. All rights reserved</text>
</svg>
</body></html>
